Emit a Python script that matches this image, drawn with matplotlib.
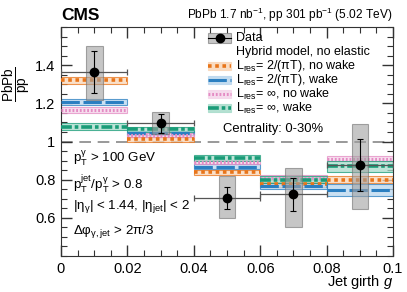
import numpy as np
import matplotlib
matplotlib.use("Agg")
import matplotlib.pyplot as plt
from matplotlib.patches import Rectangle
from matplotlib.lines import Line2D
from matplotlib.ticker import MultipleLocator

plt.rcParams['font.family'] = ['Liberation Sans', 'DejaVu Sans']
plt.rcParams['mathtext.fontset'] = 'custom'
plt.rcParams['mathtext.rm'] = 'Liberation Sans'
plt.rcParams['mathtext.it'] = 'Liberation Sans:italic'
plt.rcParams['mathtext.bf'] = 'Liberation Sans:bold'

W, H = 407, 292

# bins of jet girth
bin_lo = [0.0, 0.02, 0.04, 0.06, 0.08]
bin_hi = [0.02, 0.04, 0.06, 0.08, 0.1]
bin_mid = [0.01, 0.03, 0.05, 0.07, 0.09]

# data
data_y = [1.365, 1.095, 0.705, 0.724, 0.879]
stat_lo = [0.11, 0.05, 0.06, 0.089, 0.138]
stat_hi = [0.11, 0.05, 0.055, 0.087, 0.135]
sys_lo = [0.145, 0.055, 0.108, 0.17, 0.235]
sys_hi = [0.135, 0.058, 0.113, 0.139, 0.213]

# hybrid model
orange_y = [1.32, 1.012, 0.84, 0.775, 0.80]
orange_e = [0.02, 0.012, 0.013, 0.012, 0.02]
blue_y = [1.207, 1.045, 0.868, 0.765, 0.745]
blue_e = [0.017, 0.01, 0.012, 0.015, 0.03]
pink_y = [1.165, 1.032, 0.893, 0.81, 0.91]
pink_e = [0.017, 0.01, 0.01, 0.012, 0.012]
green_y = [1.078, 1.063, 0.915, 0.80, 0.87]
green_e = [0.017, 0.012, 0.015, 0.02, 0.03]

models = [
    (orange_y, orange_e, '#e8751a', '#f9d6b8', (0, (1, 1)), 2.6,
     r'L$_{\mathrm{res}}$= 2/($\mathrm{\pi}$T), no wake'),
    (blue_y, blue_e, '#2b7fc1', '#b9d6ee', (0, (6, 1.2)), 2.2,
     r'L$_{\mathrm{res}}$= 2/($\mathrm{\pi}$T), wake'),
    (pink_y, pink_e, '#e48cc4', '#f5d5ea', (0, (0.6, 0.6)), 2.2,
     r'L$_{\mathrm{res}}$= $\infty$, no wake'),
    (green_y, green_e, '#1a9c78', '#a8dccb', (0, (3, 0.8, 1, 0.8)), 2.6,
     r'L$_{\mathrm{res}}$= $\infty$, wake'),
]


def fx(px):
    return px / W


def fy(py):
    return 1 - py / H


fig = plt.figure(figsize=(W / 100, H / 100), dpi=100)
ax = fig.add_axes([fx(61), fy(256), fx(393) - fx(61), fy(27) - fy(256)])

ax.axhline(1.0, color='#888888', lw=1.2, ls=(0, (7, 4)), zorder=1)

for ys, es, col, fill, dash, lw, lab in models:
    for lo, hi, y, e in zip(bin_lo, bin_hi, ys, es):
        ax.add_patch(Rectangle((lo, y - e), hi - lo, 2 * e, facecolor=fill,
                               edgecolor=col, lw=0.8, alpha=0.75, zorder=2))
        ax.plot([lo, hi], [y, y], color=col, lw=lw, ls=dash, zorder=3)

# data systematic boxes
box_w = 0.005
for x, y, lo, hi in zip(bin_mid, data_y, sys_lo, sys_hi):
    ax.add_patch(Rectangle((x - box_w / 2, y - lo), box_w, lo + hi,
                           facecolor='#a0a0a0', edgecolor='#707070', lw=0.8,
                           alpha=0.6, zorder=4))

ax.errorbar(bin_mid, data_y, xerr=0.01, fmt='none', ecolor='#555555',
            elinewidth=0.9, capsize=2.5, capthick=0.9, zorder=5)
ax.errorbar(bin_mid, data_y, yerr=[stat_lo, stat_hi], fmt='o', color='black',
            ms=6, elinewidth=0.8, capsize=2.5, capthick=0.8, zorder=6)

ax.set_xlim(0, 0.1)
ax.set_ylim(0.4, 1.6)
ax.set_xticks([0, 0.02, 0.04, 0.06, 0.08, 0.1])
ax.set_xticklabels(['0', '0.02', '0.04', '0.06', '0.08', '0.1'])
ax.set_yticks([0.6, 0.8, 1.0, 1.2, 1.4])
ax.set_yticklabels(['0.6', '0.8', '1', '1.2', '1.4'])
ax.xaxis.set_minor_locator(MultipleLocator(0.005))
ax.yaxis.set_minor_locator(MultipleLocator(0.05))
ax.tick_params(which='both', direction='in', top=True, right=True,
               labelsize=10.5, color='#333333', pad=4)
ax.tick_params(which='major', length=8, width=1)
ax.tick_params(which='minor', length=4, width=0.8)
for s in ax.spines.values():
    s.set_color('#333333')

fig.text(fx(393), fy(282), r'Jet girth $g$', ha='right', va='center',
         fontsize=10.5)
fig.text(fx(17), fy(84), r'$\frac{\mathrm{PbPb}}{\mathrm{pp}}$',
         rotation=90, ha='center', va='center', fontsize=14)

fig.text(fx(61), fy(15), 'CMS', fontweight='bold', fontsize=12.5,
         ha='left', va='center')
fig.text(fx(392), fy(15),
         r'PbPb 1.7 nb$^{-1}$, pp 301 pb$^{-1}$ (5.02 TeV)',
         fontsize=8.6, ha='right', va='center')

# selection text
sel = [
    (158, r'p$_{\mathrm{T}}^{\mathrm{\gamma}}$ > 100 GeV'),
    (184, r'p$_{\mathrm{T}}^{\mathrm{jet}}$/p$_{\mathrm{T}}^{\mathrm{\gamma}}$ > 0.8'),
    (207, r'|$\mathrm{\eta}_{\mathrm{\gamma}}$| < 1.44, |$\mathrm{\eta}_{\mathrm{jet}}$| < 2'),
    (231, r'$\mathrm{\Delta\varphi}_{\mathrm{\gamma,jet}}$ > 2$\mathrm{\pi}$/3'),
]
for yy, t in sel:
    fig.text(fx(73), fy(yy), t, fontsize=9.6, ha='left', va='center')

fig.text(fx(223), fy(129), 'Centrality: 0-30%', fontsize=9.4,
         ha='left', va='center')

# legend drawn by hand: rows every 14 px
hx0, hx1, tx = 208, 231, 236
row_y = [38, 52, 66, 80, 94, 108]
leg_fs = 9.0

# data entry
y0 = row_y[0]
fig.add_artist(Rectangle((fx(hx0), fy(y0 + 5)), fx(hx1) - fx(hx0),
                         fy(y0 - 5) - fy(y0 + 5), transform=fig.transFigure,
                         facecolor='#a0a0a0', edgecolor='#707070', lw=0.8,
                         alpha=0.6))
fig.add_artist(Line2D([fx(hx0), fx(hx1)], [fy(y0), fy(y0)],
                      transform=fig.transFigure, color='black', lw=0.8))
fig.add_artist(Line2D([fx((hx0 + hx1) / 2)], [fy(y0)], transform=fig.transFigure,
                      color='black', marker='o', ms=6, ls='none'))
fig.text(fx(tx), fy(y0), 'Data', fontsize=leg_fs, ha='left', va='center')
fig.text(fx(tx), fy(row_y[1]), 'Hybrid model, no elastic', fontsize=leg_fs,
         ha='left', va='center')

for (ys, es, col, fill, dash, lw, lab), yy in zip(models, row_y[2:]):
    fig.add_artist(Rectangle((fx(hx0), fy(yy + 4)), fx(hx1) - fx(hx0),
                             fy(yy - 4) - fy(yy + 4), transform=fig.transFigure,
                             facecolor=fill, edgecolor=fill, lw=0.8, alpha=0.85))
    fig.add_artist(Line2D([fx(hx0), fx(hx1)], [fy(yy), fy(yy)],
                          transform=fig.transFigure, color=col, lw=lw, ls=dash))
    fig.text(fx(tx), fy(yy), lab, fontsize=leg_fs, ha='left', va='center')

fig.savefig('out.png', dpi=100)
